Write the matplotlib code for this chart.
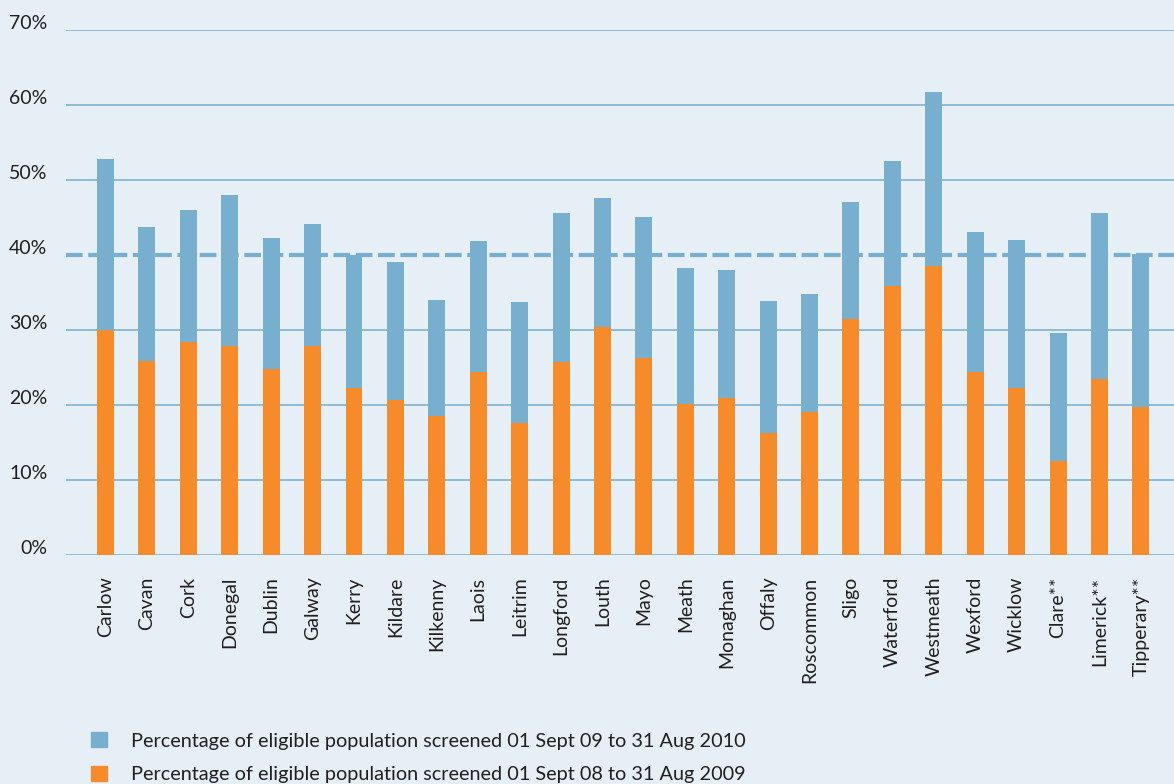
import matplotlib
matplotlib.use('Agg')
import matplotlib.pyplot as plt
import matplotlib.transforms as mtransforms
from matplotlib.patches import Patch
import numpy as np

counties = ['Carlow', 'Cavan', 'Cork', 'Donegal', 'Dublin', 'Galway', 'Kerry',
            'Kildare', 'Kilkenny', 'Laois', 'Leitrim', 'Longford', 'Louth', 'Mayo',
            'Meath', 'Monaghan', 'Offaly', 'Roscommon', 'Sligo', 'Waterford',
            'Westmeath', 'Wexford', 'Wicklow', 'Clare**', 'Limerick**', 'Tipperary**']
# 01 Sept 09 - 31 Aug 2010 (blue)
pct_2010 = [52.8, 43.7, 46.0, 48.0, 42.3, 44.1, 40.0, 39.1, 34.0, 41.9, 33.7, 45.6, 47.6,
            45.1, 38.3, 38.0, 33.9, 34.8, 47.1, 52.5, 61.7, 43.1, 42.0, 29.6, 45.6, 40.1]
# 01 Sept 08 - 31 Aug 2009 (orange)
pct_2009 = [30.0, 25.9, 28.4, 27.9, 24.8, 27.9, 22.3, 20.7, 18.6, 24.4, 17.6, 25.8, 30.4,
            26.3, 20.2, 21.0, 16.3, 19.1, 31.5, 35.9, 38.5, 24.4, 22.3, 12.5, 23.5, 19.7]
target = 40
yticks = [0, 10, 20, 30, 40, 50, 60, 70]

blue = '#78AECE'
orange = '#F58B2B'
bg = '#E6EEF6'
grid_c = '#7FB3D3'
text_c = '#231F20'

plt.rcParams['font.family'] = ['Lato', 'DejaVu Sans']

fig = plt.figure(figsize=(11.74, 7.84), dpi=100, facecolor=bg)
ax = fig.add_axes([66/1174, 1 - 555/784, 1 - 66/1174, (555 - 30)/784])
ax.set_facecolor(bg)

x = np.arange(len(counties))
width = 0.41
ax.bar(x, pct_2010, width, color=blue, zorder=2)
ax.bar(x, pct_2009, width, color=orange, zorder=3)

# gridlines
for t in yticks:
    if t == target:
        continue
    ax.axhline(t, color=grid_c, linewidth=1.2, zorder=1)
ax.axhline(target, color=blue, linewidth=3, linestyle=(0, (4, 1.35)), zorder=4)

ax.set_xlim(-0.954, 25.8)
ax.set_ylim(0, 70)
ax.set_yticks(yticks)
ax.set_yticklabels(['%d%%' % t for t in yticks], fontsize=14, color=text_c)
ax.set_xticks(x)
ax.set_xticklabels(counties, rotation=90, fontsize=14, color=text_c)
ax.tick_params(length=0)
ax.tick_params(axis='y', pad=13.5)
ax.tick_params(axis='x', pad=15.5)
for s in ax.spines.values():
    s.set_visible(False)

# y labels sit a little above their gridlines
off = mtransforms.ScaledTranslation(0, 0.08, fig.dpi_scale_trans)
for lab in ax.get_yticklabels():
    lab.set_transform(lab.get_transform() + off)

handles = [Patch(color=blue, label='Percentage of eligible population screened 01 Sept 09 to 31 Aug 2010'),
           Patch(color=orange, label='Percentage of eligible population screened 01 Sept 08 to 31 Aug 2009')]
fig.legend(handles=handles, loc='lower left', bbox_to_anchor=(73/1174, -17/784),
           frameon=False, fontsize=14.3, handlelength=0.8, handleheight=0.8,
           handletextpad=1.2, labelspacing=0.8, labelcolor=text_c)

fig.savefig('out.png', dpi=100, facecolor=bg)
